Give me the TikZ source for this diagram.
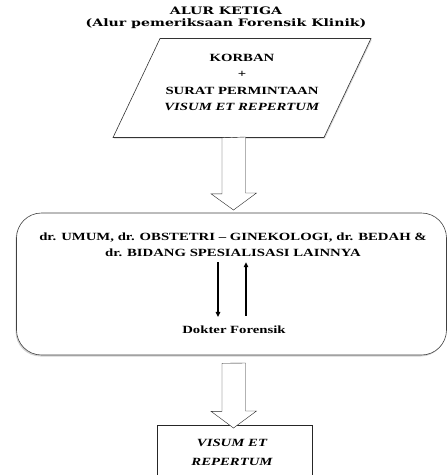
\documentclass[tikz,border=0pt]{standalone}
\usepackage{fontspec}
\newfontfamily\bodyfont[FakeStretch=1.34,Ligatures=TeX]{Liberation Serif}
\newfontfamily\headfont[FakeStretch=1.37,Ligatures=TeX]{DejaVu Serif}
\usetikzlibrary{shapes.geometric,shadows,arrows.meta}
\tikzset{
  flowtext/.style={align=center, inner sep=0pt, font=\bodyfont\bfseries\fontsize{11}{16.3}\selectfont},
  flowhead/.style={align=center, inner sep=0pt, font=\headfont\bfseries\fontsize{10.3}{12}\selectfont},
  flowpar/.style={draw=black!80, semithick, fill=white, trapezium, trapezium left angle=74, trapezium right angle=106,
    trapezium stretches=true, drop shadow={shadow xshift=1pt, shadow yshift=-1pt, opacity=0.3}},
  flowround/.style={draw=black!75, semithick, fill=white, rectangle, rounded corners=25pt,
    drop shadow={shadow xshift=-1pt, shadow yshift=-1.5pt, opacity=0.35}},
  flowbox/.style={draw=black!85, semithick, fill=white, rectangle},
  hollow/.style={draw=black!85, thin, fill=white, line join=miter},
  wire/.style={line width=1.2pt, -{Triangle[length=5pt,width=4.5pt]}}
}
\begin{document}
\begin{tikzpicture}[x=1pt,y=-1pt]
  \useasboundingbox (0,0) rectangle (447,475);
  \clip (0,0) rectangle (447,475);
  \node[flowhead] (title) at (226,18) {ALUR KETIGA\\(Alur pemeriksaan Forensik Klinik)};

  \node[flowpar, minimum width=258pt, minimum height=99pt] (korbanbox) at (242,88) {};
  \node[flowtext] (korban) at (242,82.5) {KORBAN\\+\\SURAT PERMINTAAN\\\textit{VISUM ET REPERTUM}};

  \node[flowround, minimum width=430pt, minimum height=142pt] (team) at (231.5,284) {};
  \node[flowtext] (dokter) at (233,245) {dr. UMUM, dr. OBSTETRI \textendash{} GINEKOLOGI, dr. BEDAH \&\\dr. BIDANG SPESIALISASI LAINNYA};
  \node[flowtext] (forensik) at (234,330) {Dokter Forensik};

  \node[flowbox, minimum width=155pt, minimum height=60pt] (visumbox) at (234.5,455) {};
  \node[flowtext, font=\bodyfont\bfseries\itshape\fontsize{11}{19}\selectfont] (visum) at (232,452.5) {VISUM ET\\REPERTUM};

  % block arrows
  \coordinate (tip1) at (233.5,210);
  \coordinate (tip2) at (233.5,428);
  \draw[hollow] (korbanbox.south -| tip1) ++(-11.5,0) -- ++(0,56) -- ++(-11,0) -- (tip1) -- ++(23,-17) -- ++(-11,0) -- ++(0,-56) -- cycle;
  \draw[hollow] ([yshift=-8pt]team.south -| tip2) ++(-11.5,0) -- ++(0,48) -- ++(-11,0) -- (tip2) -- ++(23,-17) -- ++(-11,0) -- ++(0,-48) -- cycle;

  % bolak-balik
  \draw[wire] ([xshift=-15pt,yshift=-5pt]dokter.south) -- ([xshift=-16pt,yshift=9pt]forensik.north);
  \draw[wire] ([xshift=12pt,yshift=10pt]forensik.north) -- ([xshift=13pt,yshift=-5pt]dokter.south);
\end{tikzpicture}
\end{document}
